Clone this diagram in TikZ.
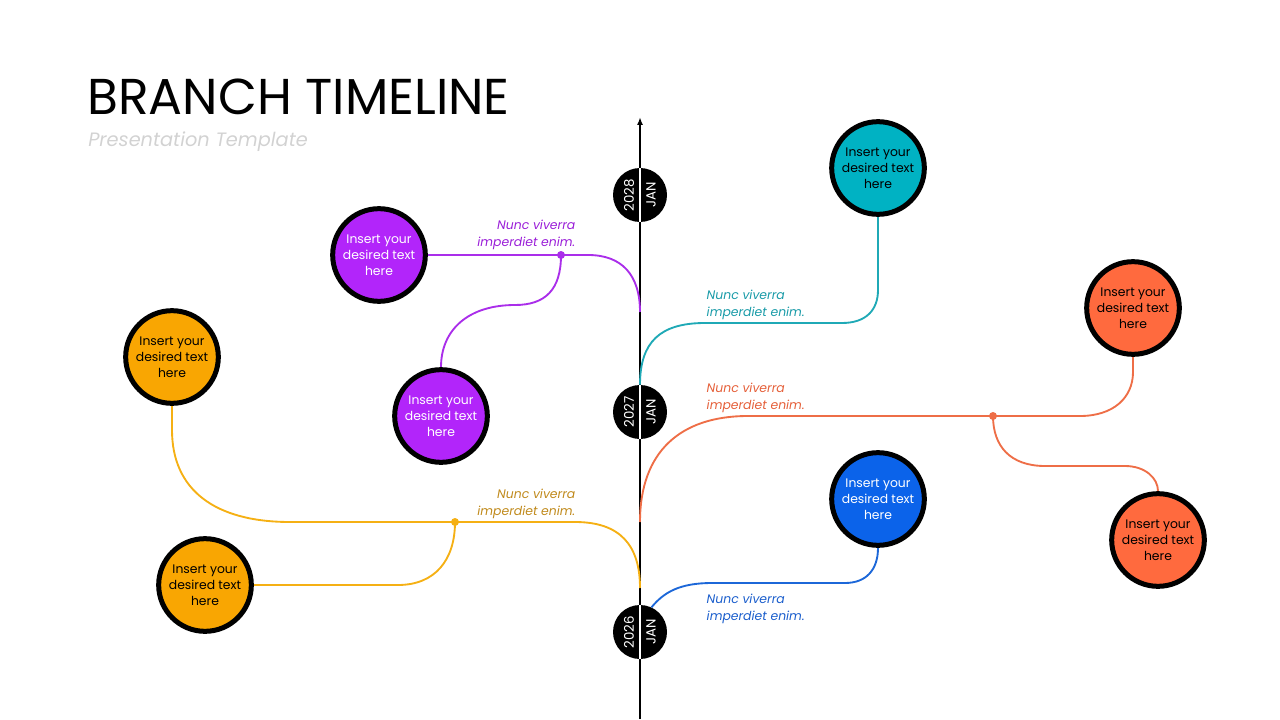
\documentclass[tikz,border=0pt]{standalone}
\usepackage{fontspec}
\setmainfont{Poppins}
\usetikzlibrary{arrows.meta, backgrounds, calc}
\definecolor{purplefill}{HTML}{B225FA}
\definecolor{purpleline}{HTML}{AA2EEA}
\definecolor{purpletext}{HTML}{9A1ED8}
\definecolor{amberfill}{HTML}{F9A602}
\definecolor{amberline}{HTML}{F5B014}
\definecolor{ambertext}{HTML}{C08A1C}
\definecolor{tealfill}{HTML}{00B2C3}
\definecolor{tealline}{HTML}{1FA9B6}
\definecolor{tealtext}{HTML}{1A9BA8}
\definecolor{coralfill}{HTML}{FF6A3E}
\definecolor{coralline}{HTML}{EE6E47}
\definecolor{coraltext}{HTML}{E5603A}
\definecolor{bluefill}{HTML}{0B63EA}
\definecolor{blueline}{HTML}{1C67D8}
\definecolor{bluetext}{HTML}{1B5ECC}
\definecolor{subtext}{HTML}{D2D2D2}
\tikzset{
  bubble/.style={circle, draw=black, line width=3.75pt, minimum size=69.5pt,
                 inner sep=0pt, align=center, font=\fontsize{9.3}{12}\selectfont},
  year/.style={circle, fill=black, minimum size=40.5pt, inner sep=0pt},
  yeartext/.style={text=white, rotate=90, font=\fontsize{10}{11}\selectfont},
  note/.style={font=\fontsize{9.3}{12.5}\selectfont\itshape},
  branch/.style={line width=1.4pt},
  knot/.style={circle, inner sep=0pt, minimum size=6pt},
  axis/.style={-{Latex[length=6pt, width=4.5pt]}, line width=1.5pt},
}
\def\yearshift{11}

\begin{document}
\begin{tikzpicture}[x=0.75pt, y=-0.75pt]
\useasboundingbox (0,0) rectangle (1280,720);

% Title
\node[anchor=base west, inner sep=0pt, font=\fontsize{37.8}{40}\selectfont] (title) at (87,115) {BRANCH TIMELINE};
\node[anchor=base west, inner sep=0pt, text=subtext, font=\fontsize{14.5}{16}\selectfont\itshape] (subtitle) at (88,147) {Presentation Template};

% Year badges on the axis
\foreach \n/\y/\t in {y2028/195/2028, y2027/412/2027, y2026/632/2026} {
  \node[year] (\n) at (640,\y) {};
  \draw[white, line width=1.2pt] (\n.north) -- (\n.south);
  \node[yeartext] at ($(\n.center)+(-\yearshift,0)$) {\t};
  \node[yeartext] at ($(\n.center)+(\yearshift,0)$) {JAN};
}

% Left side bubbles
\node[bubble, fill=purplefill, text=white] (purpA) at (379,255) {Insert your\\desired text\\here};
\node[bubble, fill=purplefill, text=white] (purpB) at (441,416) {Insert your\\desired text\\here};
\node[bubble, fill=amberfill] (ambA) at (172,357) {Insert your\\desired text\\here};
\node[bubble, fill=amberfill] (ambB) at (205,585) {Insert your\\desired text\\here};

% Right side bubbles
\node[bubble, fill=tealfill] (tealA) at (878,168) {Insert your\\desired text\\here};
\node[bubble, fill=coralfill] (coralA) at (1133,308) {Insert your\\desired text\\here};
\node[bubble, fill=coralfill] (coralB) at (1158,540) {Insert your\\desired text\\here};
\node[bubble, fill=bluefill, text=white] (blueA) at (878,499) {Insert your\\desired text\\here};

% Junction dots
\node[knot, fill=purpleline] (purpJ) at (561,255) {};
\node[knot, fill=amberline] (ambJ) at (455,522) {};
\node[knot, fill=coralline] (coralJ) at (993,416) {};

% Notes
\node[note, text=purpletext, anchor=east, align=right] (purpnote) at (580,235) {Nunc viverra\\imperdiet enim.};
\node[note, text=ambertext, anchor=east, align=right] (ambnote) at (580,504) {Nunc viverra\\imperdiet enim.};
\node[note, text=tealtext, anchor=west, align=left] (tealnote) at (702,305) {Nunc viverra\\imperdiet enim.};
\node[note, text=coraltext, anchor=west, align=left] (coralnote) at (702,398) {Nunc viverra\\imperdiet enim.};
\node[note, text=bluetext, anchor=west, align=left] (bluenote) at (702,609) {Nunc viverra\\imperdiet enim.};

% Axis and branches behind everything
\coordinate (axbot) at (640,719);
\coordinate (axtop) at (640,117);
\coordinate (purpO) at (640,312);
\coordinate (coralO) at (640,522);
\coordinate (ambO) at (640,588);
\begin{scope}[on background layer]
  \draw[axis] (axbot) -- (axtop);
  % purple
  \draw[branch, purpleline] (purpO) .. controls (640,275) and (622,255) .. (588,255) -- (purpA.east);
  \draw[branch, purpleline] (purpJ.center) .. controls (561,290) and (545,305) .. (515,305)
        .. controls (468,305) and (441,330) .. (purpB.north);
  % amber
  \draw[branch, amberline] (ambO) .. controls (640,545) and (620,522) .. (575,522) -- (290,522)
        .. controls (215,522) and (172,490) .. (172,430) -- (ambA.south);
  \draw[branch, amberline] (ambJ.center) .. controls (455,560) and (435,585) .. (398,585) -- (ambB.east);
  % teal
  \draw[branch, tealline] (y2027.north) .. controls (640,342) and (660,323) .. (705,323) -- (842,323)
        .. controls (866,323) and (878,310) .. (878,290) -- (tealA.south);
  % coral
  \draw[branch, coralline] (coralO) .. controls (640,452) and (680,416) .. (748,416) -- (1080,416)
        .. controls (1113,416) and (1133,398) .. (1133,372) -- (coralA.south);
  \draw[branch, coralline] (coralJ.center) .. controls (993,446) and (1010,466) .. (1045,466) -- (1125,466)
        .. controls (1145,466) and (1158,478) .. (coralB.north);
  % blue
  \draw[branch, blueline] (y2026.65) .. controls (664,592) and (680,583) .. (712,583) -- (845,583)
        .. controls (866,583) and (878,570) .. (blueA.south);
\end{scope}

\end{tikzpicture}
\end{document}
